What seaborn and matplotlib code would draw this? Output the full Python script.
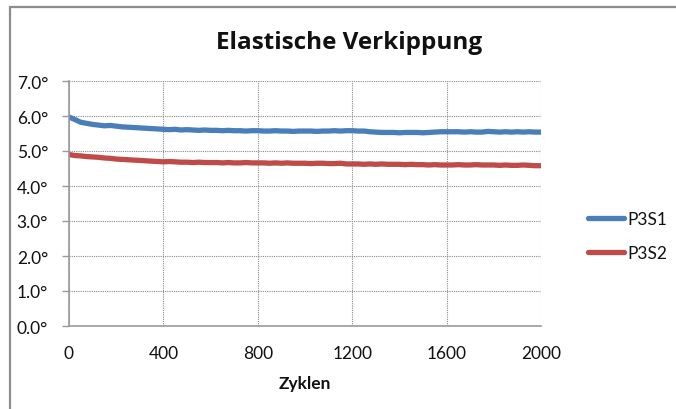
import matplotlib
matplotlib.use("Agg")
import matplotlib.pyplot as plt
import pandas as pd
import seaborn as sns
from matplotlib.ticker import FuncFormatter, MultipleLocator
from matplotlib.lines import Line2D

# Cycle numbers at which the tilt was sampled
zyklen = [0, 25, 50, 75, 100, 125, 150, 175, 200, 225, 250, 275, 300, 325, 350, 375,
          400, 425, 450, 475, 500, 525, 550, 575, 600, 625, 650, 675, 700, 725, 750, 775,
          800, 825, 850, 875, 900, 925, 950, 975, 1000, 1025, 1050, 1075, 1100, 1125, 1150,
          1175, 1200, 1225, 1250, 1275, 1300, 1325, 1350, 1375, 1400, 1425, 1450, 1475,
          1500, 1525, 1550, 1575, 1600, 1625, 1650, 1675, 1700, 1725, 1750, 1775, 1800,
          1825, 1850, 1875, 1900, 1925, 1950, 1975, 2000]

# Elastic tilt in degrees
p3s1 = [5.97, 5.90, 5.82, 5.79, 5.76, 5.74, 5.72, 5.73, 5.71, 5.69, 5.68, 5.67, 5.66, 5.65,
        5.64, 5.63, 5.62, 5.61, 5.62, 5.60, 5.61, 5.60, 5.59, 5.60, 5.59, 5.59, 5.58, 5.59,
        5.58, 5.58, 5.57, 5.58, 5.58, 5.57, 5.57, 5.58, 5.57, 5.57, 5.56, 5.57, 5.57, 5.57,
        5.56, 5.57, 5.57, 5.58, 5.57, 5.58, 5.58, 5.57, 5.57, 5.55, 5.54, 5.53, 5.53, 5.53,
        5.52, 5.53, 5.53, 5.53, 5.52, 5.53, 5.54, 5.55, 5.55, 5.55, 5.55, 5.54, 5.55, 5.54,
        5.54, 5.56, 5.55, 5.54, 5.55, 5.54, 5.55, 5.54, 5.55, 5.54, 5.54]

p3s2 = [4.90, 4.87, 4.86, 4.84, 4.83, 4.82, 4.80, 4.79, 4.77, 4.76, 4.75, 4.74, 4.73, 4.72,
        4.71, 4.70, 4.69, 4.70, 4.69, 4.68, 4.68, 4.67, 4.68, 4.67, 4.67, 4.67, 4.66, 4.67,
        4.66, 4.66, 4.67, 4.66, 4.66, 4.66, 4.65, 4.66, 4.65, 4.66, 4.65, 4.65, 4.65, 4.64,
        4.65, 4.65, 4.64, 4.64, 4.65, 4.63, 4.63, 4.63, 4.62, 4.63, 4.62, 4.63, 4.62, 4.62,
        4.62, 4.61, 4.62, 4.61, 4.61, 4.60, 4.61, 4.60, 4.60, 4.60, 4.61, 4.60, 4.60, 4.61,
        4.60, 4.60, 4.60, 4.59, 4.60, 4.59, 4.59, 4.60, 4.59, 4.58, 4.58]

series_names = ["P3S1", "P3S2"]
colors = ["#4A7EBB", "#BE4B48"]

df = pd.concat([
    pd.DataFrame({"Zyklen": zyklen, "Winkel": p3s1, "Serie": series_names[0]}),
    pd.DataFrame({"Zyklen": zyklen, "Winkel": p3s2, "Serie": series_names[1]}),
])

sns.set_theme(style="white")
plt.rcParams["font.family"] = ["Lato", "DejaVu Sans"]

fig = plt.figure(figsize=(6.76, 4.10), dpi=100)
ax = fig.add_axes([69 / 676, 1 - 327 / 410, (541 - 69) / 676, (327 - 82) / 410])

sns.lineplot(data=df, x="Zyklen", y="Winkel", hue="Serie", palette=colors,
             linewidth=3.8, ax=ax, legend=False)

ax.set_xlim(0, 2000)
ax.set_ylim(0, 7)
ax.xaxis.set_major_locator(MultipleLocator(400))
ax.yaxis.set_major_locator(MultipleLocator(1))
ax.yaxis.set_major_formatter(FuncFormatter(lambda v, p: f"{v:.1f}°"))

ax.grid(True, which="major", color="#8a8a8a", linestyle=(0, (1, 1)), linewidth=0.8)
for side in ("top", "right"):
    ax.spines[side].set_visible(False)
for side in ("left", "bottom"):
    ax.spines[side].set_color("#9a9a9a")
    ax.spines[side].set_linewidth(1.2)

ax.tick_params(axis="y", which="major", length=5, width=1, color="#9a9a9a",
               direction="out", left=True, labelsize=12.5, pad=10, labelcolor="#111111")
ax.tick_params(axis="x", which="major", length=0, labelsize=12.5, pad=14, labelcolor="#111111")

ax.set_xlabel("Zyklen", fontsize=12.5, fontweight="bold", labelpad=10, color="#111111")
ax.set_ylabel("")

fig.text(349 / 676, 1 - 43 / 410, "Elastische Verkippung", ha="center", va="center",
         fontsize=17.5, fontweight="bold", color="#111111",
         family=["Open Sans", "DejaVu Sans"])

handles = [Line2D([0], [0], color=c, linewidth=3.8) for c in colors]
fig.legend(handles, series_names, loc="center left", bbox_to_anchor=(588 / 676, 1 - 237 / 410),
           frameon=False, fontsize=12.5, handlelength=2.1, handletextpad=0.15,
           borderpad=0, borderaxespad=0, labelspacing=1.05, labelcolor="#111111")

# outer chart frame: top and left edges
fig.add_artist(Line2D([9.5 / 676, 9.5 / 676], [0, 1 - 7.5 / 410], color="#8c8c8c",
                      linewidth=1.6, transform=fig.transFigure))
fig.add_artist(Line2D([9.5 / 676, 1], [1 - 7.5 / 410, 1 - 7.5 / 410], color="#8c8c8c",
                      linewidth=1.6, transform=fig.transFigure))

fig.savefig("out.png", dpi=100)
